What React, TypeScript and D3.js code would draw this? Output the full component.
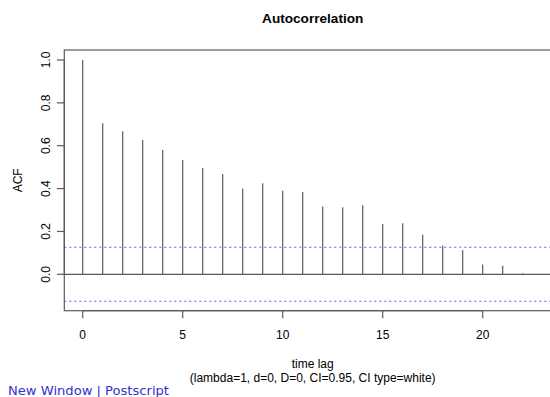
import React from "react";
import * as d3 from "d3";

const lags = [0, 1, 2, 3, 4, 5, 6, 7, 8, 9, 10, 11, 12, 13, 14, 15, 16, 17, 18, 19, 20, 21, 22, 23];
const acfValues = [1.0, 0.705, 0.667, 0.627, 0.58, 0.533, 0.496, 0.468, 0.4, 0.425, 0.39, 0.384, 0.316, 0.313, 0.322, 0.235, 0.238, 0.185, 0.134, 0.112, 0.046, 0.04, 0.004, -0.003];
const ciBound = 0.126;
const xTicks = [0, 5, 10, 15, 20];
const yTicks = [0.0, 0.2, 0.4, 0.6, 0.8, 1.0];

const W = 550;
const H = 397;
const font = "'Liberation Sans', Arial, Helvetica, sans-serif";

export default function App() {
  const x = d3.scaleLinear().domain([-0.92, 23.92]).range([64.3, 561.1]);
  const y = d3.scaleLinear().domain([0, 1]).range([274.3, 60]);
  const yMin = y.invert(310.7);
  const yMax = y.invert(50);
  const boxTop = y(yMax);
  const boxBottom = y(yMin);
  const boxLeft = x(-0.92);
  const boxRight = x(23.92);
  const lineColor = "#5a5a5a";
  const ciColor = "#5a5aff";
  const cx = (boxLeft + boxRight) / 2;

  return (
    <svg
      width={W}
      height={H}
      style={{ position: "fixed", left: 0, top: 0, background: "#fff" }}
      fontFamily={font}
    >
      <rect x={0} y={0} width={W} height={H} fill="#fff" />
      <text x={cx} y={23} textAnchor="middle" fontWeight="bold" fontSize={13.6} fill="#000">
        Autocorrelation
      </text>
      <rect
        x={boxLeft}
        y={boxTop}
        width={boxRight - boxLeft}
        height={boxBottom - boxTop}
        fill="none"
        stroke={lineColor}
        strokeWidth={1.2}
      />
      {[ciBound, -ciBound].map((v, i) => (
        <line
          key={i}
          x1={boxLeft}
          x2={boxRight}
          y1={y(v)}
          y2={y(v)}
          stroke={ciColor}
          strokeWidth={1.1}
          strokeDasharray="2 3"
        />
      ))}
      <line x1={boxLeft} x2={boxRight} y1={y(0)} y2={y(0)} stroke={lineColor} strokeWidth={1.2} />
      {lags.map((l, i) => (
        <line
          key={l}
          x1={x(l)}
          x2={x(l)}
          y1={y(0)}
          y2={y(acfValues[i])}
          stroke={lineColor}
          strokeWidth={1.2}
        />
      ))}
      <line
        x1={x(xTicks[0])}
        x2={x(xTicks[xTicks.length - 1])}
        y1={boxBottom}
        y2={boxBottom}
        stroke={lineColor}
        strokeWidth={1.2}
      />
      {xTicks.map((t) => (
        <g key={t}>
          <line x1={x(t)} x2={x(t)} y1={boxBottom} y2={boxBottom + 7.5} stroke={lineColor} strokeWidth={1.2} />
          <text x={x(t)} y={338.5} textAnchor="middle" fontSize={12} fill="#000">
            {t}
          </text>
        </g>
      ))}
      <line x1={boxLeft} x2={boxLeft} y1={y(0)} y2={y(1)} stroke={lineColor} strokeWidth={1.2} />
      {yTicks.map((t) => (
        <g key={t}>
          <line x1={boxLeft - 7.3} x2={boxLeft} y1={y(t)} y2={y(t)} stroke={lineColor} strokeWidth={1.2} />
          <text
            transform={`translate(49.5,${y(t)}) rotate(-90)`}
            textAnchor="middle"
            fontSize={12}
            fill="#000"
          >
            {t.toFixed(1)}
          </text>
        </g>
      ))}
      <text transform={`translate(21.5,${(boxTop + boxBottom) / 2}) rotate(-90)`} textAnchor="middle" fontSize={12} fill="#000">
        ACF
      </text>
      <text x={cx} y={367.5} textAnchor="middle" fontSize={12} fill="#000">
        time lag
      </text>
      <text x={cx} y={381.5} textAnchor="middle" fontSize={12} fill="#000">
        (lambda=1, d=0, D=0, CI=0.95, CI type=white)
      </text>
      <text
        x={8}
        y={395}
        fontSize={11.6}
        fill="#3333cc"
        fontFamily="'DejaVu Sans', Verdana, sans-serif"
        textLength={161}
        lengthAdjust="spacingAndGlyphs"
      >
        New Window | Postscript
      </text>
    </svg>
  );
}
